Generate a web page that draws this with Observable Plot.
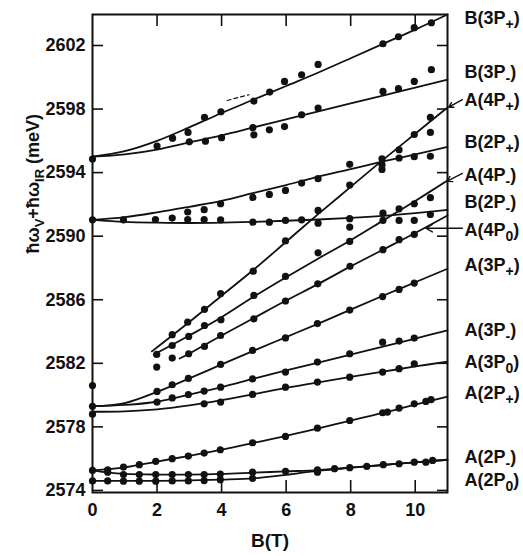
<!DOCTYPE html>
<html><head><meta charset="utf-8">
<script src="https://cdn.jsdelivr.net/npm/d3@7"></script>
<script src="https://cdn.jsdelivr.net/npm/@observablehq/plot@0.6"></script>
<style>
body{margin:0;background:#fff;}
</style></head><body><div id="chart"></div>
<script>
// ---- axis ticks ----
const xTicks = [0, 2, 4, 6, 8, 10];
const xTicksInner = [2, 4, 6, 8, 10];
const yTicks = [2574, 2578, 2582, 2586, 2590, 2594, 2598, 2602];

// ---- fitted curves [B (T), energy (meV)] ----
const curveB3Pplus = [[0,2595.0],[1,2595.35],[2,2596.0],[3,2596.85],[4,2597.75],[5,2598.6],[6,2599.45],[7,2600.3],[8,2601.2],[9,2602.1],[10,2603.0],[11,2603.95]];
const curveB3Pminus = [[0,2595.0],[1,2595.15],[2,2595.45],[3,2595.9],[4,2596.35],[5,2596.85],[6,2597.35],[7,2597.85],[8,2598.35],[9,2598.85],[10,2599.35],[11,2599.85]];
const curveB2Pplus = [[0,2591.03],[1,2591.2],[2,2591.5],[3,2591.85],[4,2592.22],[5,2592.72],[6,2593.22],[7,2593.75],[8,2594.22],[9,2594.7],[10,2595.15],[11,2595.62]];
const curveB2Pminus = [[0,2591.03],[1,2590.9],[2,2590.85],[3,2590.83],[4,2590.85],[5,2590.9],[6,2590.97],[7,2591.05],[8,2591.15],[9,2591.28],[10,2591.45],[11,2591.65]];
const curveA4Pplus = [[1.84,2582.75],[3,2584.6],[4,2586.25],[5,2587.9],[6,2589.65],[7,2591.4],[8,2593.1],[9,2594.8],[10,2596.45],[11,2598.1]];
const curveA4Pminus = [[1.9,2582.55],[3,2583.75],[4,2584.9],[5,2586.2],[6,2587.42],[7,2588.6],[8,2589.75],[9,2590.98],[10,2592.22],[11,2593.5]];
const curveA4P0 = [[2.7,2582.3],[3,2582.62],[4,2583.75],[5,2584.85],[6,2585.95],[7,2587.0],[8,2588.1],[9,2589.15],[10,2590.2],[11,2591.3]];
const curveA3Pplus = [[0,2579.3],[1,2579.5],[2,2580.2],[3,2581.05],[4,2581.93],[5,2582.8],[6,2583.65],[7,2584.5],[8,2585.38],[9,2586.25],[10,2587.1],[11,2587.95]];
const curveA3Pminus = [[0,2579.3],[1,2579.38],[2,2579.58],[3,2580.03],[4,2580.5],[5,2581.03],[6,2581.55],[7,2582.05],[8,2582.55],[9,2583.05],[10,2583.56],[11,2584.07]];
const curveA3P0 = [[0,2578.95],[1,2578.98],[2,2579.1],[3,2579.35],[4,2579.68],[5,2580.06],[6,2580.45],[7,2580.8],[8,2581.15],[9,2581.47],[10,2581.8],[11,2582.1]];
const curveA2Pplus = [[0,2575.26],[1,2575.45],[2,2575.82],[3,2576.18],[4,2576.57],[5,2577.0],[6,2577.43],[7,2577.9],[8,2578.4],[9,2578.88],[10,2579.4],[11,2579.9]];
const curveA2Pminus = [[0,2575.26],[0.5,2575.12],[1,2575.04],[2,2575.0],[3,2575.0],[4,2575.04],[5,2575.12],[6,2575.2],[7,2575.28],[8,2575.43],[9,2575.6],[10,2575.77],[11,2575.93]];
const curveA2P0 = [[0,2574.6],[1,2574.6],[2,2574.6],[3,2574.63],[4,2574.68],[5,2574.76],[6,2574.98],[7,2575.25],[8,2575.43],[9,2575.6],[10,2575.77],[11,2575.93]];
const dashedSegment = [[4.17,2598.54],[4.85,2598.9]];

// ---- measured points [B (T), energy (meV)] ----
const dotsB3P = [[0,2594.85],[2.0,2595.67],[2.48,2596.17],[2.96,2596.53],[3.47,2597.47],[3.98,2597.83],[5.0,2598.5],[5.49,2599.07],[5.95,2599.74],[6.48,2600.16],[6.99,2600.81],[9.0,2602.11],[9.48,2602.55],[9.97,2603.12],[10.5,2603.43],
  [3.0,2595.94],[3.5,2595.98],[4.0,2596.2],[4.97,2596.83],[5.0,2596.38],[5.48,2596.69],[5.95,2596.9],[6.48,2597.64],[6.99,2598.06],[9.0,2599.11],[9.48,2599.28],[9.97,2599.74],[10.5,2600.48]];
const dotsB2P = [[0,2591.03],[0.96,2591.03],[1.95,2591.05],[2.47,2591.14],[2.95,2591.52],[2.95,2591.05],[3.46,2591.67],[3.46,2591.05],[3.97,2592.04],[3.97,2591.03],[4.97,2592.44],[4.97,2590.88],[5.48,2592.63],[5.48,2590.88],[5.98,2592.88],[5.98,2590.99],[6.48,2593.34],[6.48,2591.03],[6.99,2593.62],[6.99,2590.82],[7.97,2594.52],[7.97,2591.1],[7.97,2590.57],[9.0,2591.45],[9.0,2590.99],[9.5,2594.92],[9.5,2590.99],[9.97,2595.0],[9.97,2590.99],[10.47,2595.03],[10.47,2591.37]];
const dotsA4P = [[1.99,2582.56],[2.47,2583.8],[2.95,2584.59],[3.47,2585.4],[3.97,2586.38],[4.98,2587.8],[5.98,2589.7],[6.99,2591.62],[7.97,2593.22],[8.97,2594.87],[8.97,2594.5],[8.97,2594.2],[9.5,2595.44],[9.97,2596.4],[10.47,2597.47],[10.47,2596.53],
  [2.47,2583.12],[2.98,2583.69],[3.47,2584.38],[3.98,2584.74],[5.0,2586.27],[5.98,2587.47],[6.99,2588.95],[7.97,2589.67],[9.5,2591.72],[9.97,2592.04],[10.47,2592.42],
  [1.99,2581.76],[2.47,2582.33],[2.98,2582.6],[3.47,2583.06],[3.97,2583.75],[5.0,2584.8],[5.98,2585.92],[6.98,2587.0],[7.98,2588.1],[9.0,2589.15],[9.5,2589.78],[9.97,2590.11]];
const dotsA3P = [[0,2580.6],[0,2579.29],[0,2578.8],
  [2.0,2580.23],[2.47,2580.65],[2.97,2581.05],[3.97,2581.93],[4.96,2582.81],[5.98,2583.6],[6.97,2584.5],[7.97,2585.35],[8.99,2586.2],[9.5,2586.65],[9.97,2587.05],
  [2.0,2579.56],[2.47,2579.82],[2.97,2580.03],[3.46,2580.25],[3.97,2580.5],[4.96,2581.02],[5.98,2581.45],[6.97,2582.08],[7.97,2582.6],[8.99,2583.33],[9.5,2583.4],[9.97,2583.59],
  [3.46,2579.45],[3.97,2579.56],[4.96,2580.04],[5.98,2580.5],[6.97,2580.82],[7.97,2581.13],[8.99,2581.45],[9.5,2581.66],[9.97,2581.97]];
const dotsA2P = [[0,2575.26],[0.47,2575.3],[0.96,2575.47],[1.45,2575.62],[1.96,2575.83],[2.47,2576.0],[2.97,2576.16],[3.46,2576.35],[3.96,2576.56],[4.96,2577.0],[5.98,2577.4],[6.97,2577.92],[7.97,2578.4],[8.99,2578.89],[9.14,2578.93],[9.5,2579.18],[9.97,2579.45],[10.33,2579.6],[10.49,2579.71],
  [0.47,2575.15],[0.96,2575.0],[1.45,2575.0],[1.96,2575.0],[2.47,2575.0],[2.97,2575.0],[3.46,2575.0],[3.96,2575.03],[4.96,2575.15],[5.98,2575.2],[6.97,2575.3],[7.5,2575.37],[7.97,2575.43],[8.5,2575.51],[9.01,2575.62],[9.5,2575.68],[9.97,2575.78],[10.33,2575.78],[10.54,2575.89],
  [0,2574.6],[0.47,2574.6],[0.96,2574.58],[1.45,2574.58],[1.96,2574.58],[2.47,2574.6],[2.97,2574.6],[3.46,2574.62],[3.96,2574.68],[4.96,2574.76],[6.97,2575.15]];

// ---- right-hand labels ----
const labelNames = ["B(3P+)","B(3P-)","A(4P+)","B(2P+)","A(4P-)","B(2P-)","A(4P0)","A(3P+)","A(3P-)","A(3P0)","A(2P+)","A(2P-)","A(2P0)"];
const labelEnergy = [2603.7,2600.3,2598.54,2595.9,2593.82,2592.12,2590.36,2588.16,2584.07,2582.06,2580.1,2576.08,2574.63];
// pointer arrows: [B1, E1, B2, E2]
const arrowSpecs = [[11.46,2598.6,11.04,2598.12],[11.46,2593.95,10.98,2593.45],[11.46,2590.5,10.33,2590.5]];
const yLabelText = "ħωV+ħωIR (meV)";
const xLabelText = "B(T)";

// ---- build tables ----
const curves = [["B3P+",curveB3Pplus],["B3P-",curveB3Pminus],["B2P+",curveB2Pplus],["B2P-",curveB2Pminus],
  ["A4P+",curveA4Pplus],["A4P-",curveA4Pminus],["A4P0",curveA4P0],["A3P+",curveA3Pplus],["A3P-",curveA3Pminus],
  ["A3P0",curveA3P0],["A2P+",curveA2Pplus],["A2P-",curveA2Pminus],["A2P0",curveA2P0]];
const lineData = curves.flatMap(([s, pts]) => pts.map(([b, e]) => ({s, b, e})));
const dotData = [...dotsB3P, ...dotsB2P, ...dotsA4P, ...dotsA3P, ...dotsA2P].map(([b, e]) => ({b, e}));
const labelData = labelNames.map((n, i) => ({n, e: labelEnergy[i]}));
const arrowData = arrowSpecs.map(([b1, e1, b2, e2]) => ({b1, e1, b2, e2}));
const dashData = dashedSegment.map(([b, e]) => ({b, e}));

const W = 523, H = 556, mL = 92, mR = 76, mT = 14, mB = 64;
const innerW = W - mL - mR, innerH = H - mT - mB;
const ink = "#111";

const plot = Plot.plot({
  width: W, height: H,
  marginLeft: mL, marginRight: mR, marginTop: mT, marginBottom: mB,
  x: {domain: [0, 11]},
  y: {domain: [2573.87, 2603.95]},
  style: {fontFamily: "'Liberation Sans', Arial, sans-serif", fontSize: "18px", fontWeight: "bold", color: ink, background: "#fff"},
  marks: [
    Plot.axisY(yTicks, {anchor: "left", tickSize: 0, tickPadding: 7, label: null, tickFormat: d => String(d), fontSize: 18, fontWeight: "bold"}),
    Plot.axisX(xTicks, {anchor: "bottom", tickSize: 0, tickPadding: 11, label: null, tickFormat: d => String(d), fontSize: 18, fontWeight: "bold"}),
    Plot.tickY(yTicks, {y: d => d, insetRight: innerW - 11, stroke: ink, strokeWidth: 1.6}),
    Plot.tickY(yTicks, {y: d => d, insetLeft: innerW - 10, stroke: ink, strokeWidth: 1.6}),
    Plot.tickX(xTicksInner, {x: d => d, insetTop: innerH - 12, stroke: ink, strokeWidth: 1.6}),
    Plot.tickX(xTicksInner, {x: d => d, insetBottom: innerH - 12, stroke: ink, strokeWidth: 1.6}),
    Plot.line(lineData, {x: "b", y: "e", z: "s", curve: "catmull-rom", stroke: ink, strokeWidth: 1.8}),
    Plot.line(dashData, {x: "b", y: "e", stroke: ink, strokeWidth: 1.2, strokeDasharray: "4,3"}),
    Plot.dot(dotData, {x: "b", y: "e", r: 3.6, fill: ink, stroke: null}),
    Plot.frame({stroke: ink, strokeWidth: 2}),
    Plot.text(labelData, {x: () => 11, y: "e", text: "n", dx: 17, textAnchor: "start", fontSize: 18, fontWeight: "bold", fill: ink}),
    Plot.arrow(arrowData, {x1: "b1", y1: "e1", x2: "b2", y2: "e2", stroke: ink, strokeWidth: 1.4, headLength: 8}),
    Plot.text([xLabelText], {frameAnchor: "bottom", lineAnchor: "bottom", dy: 54, fontSize: 19, fontWeight: "bold", fill: ink}),
    Plot.text([yLabelText], {frameAnchor: "left", dx: -59, rotate: -90, fontSize: 18, fontWeight: "bold", fill: ink})
  ]
});
document.getElementById("chart").appendChild(plot);

// subscripts as real text tspans
const svg = d3.select(plot);
function setParts(node, parts) {
  const t = d3.select(node);
  t.text("");
  let shift = 0;
  for (const [str, sub, size] of parts) {
    const target = sub ? 5 : 0;
    const ts = t.append("tspan").text(str).attr("dy", target - shift);
    if (size) ts.attr("font-size", size);
    shift = target;
  }
}
svg.selectAll("text").each(function() {
  const s = this.textContent;
  if (labelNames.includes(s)) {
    const m = s.match(/^(.*P)(.)\)$/);
    setParts(this, [[m[1], false], [m[2], true, 14], [")", false]]);
  } else if (s === yLabelText) {
    setParts(this, [["ħω", false], ["V", true, 13], ["+ħω", false], ["IR", true, 13], [" (meV)", false]]);
  }
});
</script></body></html>
